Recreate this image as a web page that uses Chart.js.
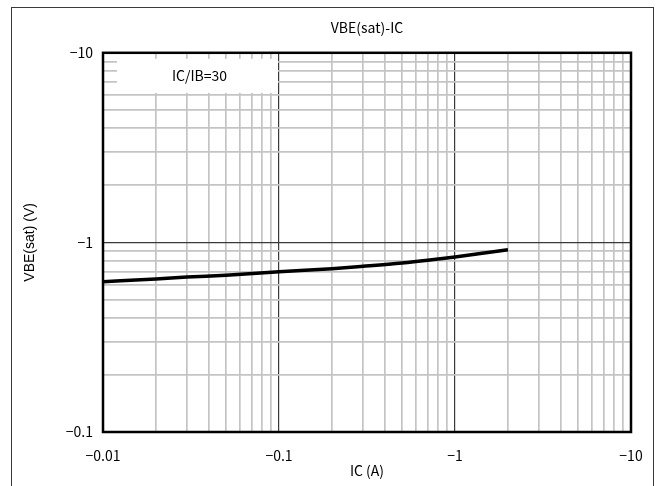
<!DOCTYPE html>
<html>
<head>
<meta charset="utf-8">
<title>VBE(sat)-IC</title>
<script src="https://cdn.jsdelivr.net/npm/chart.js@4.4.1/dist/chart.umd.min.js"></script>
<style>
  html, body { margin: 0; padding: 0; background: #fff; }
  #wrap { position: relative; width: 656px; height: 486px; }
</style>
</head>
<body>
<div id="wrap"><canvas id="chart" width="656" height="486"></canvas></div>
<script>
// IC/IB=30 での VBE(sat) 特性 (A, V)
const icValues  = [-0.01, -0.02, -0.03, -0.05, -0.1, -0.2, -0.3, -0.5, -0.7, -1, -1.5, -2];
const vbeValues = [-0.62, -0.641, -0.656, -0.672, -0.70, -0.727, -0.748, -0.778, -0.804, -0.837, -0.881, -0.915];

// 目盛り (10 倍ごと)
const xDecades = [0.01, 0.1, 1, 10];
const xTickLabels = ['−0.01', '−0.1', '−1', '−10'];
const yDecades = [0.1, 1, 10];
const yTickLabels = ['−0.1', '−1', '−10'];
const noteText = 'IC/IB=30';

const jpFont = '"Noto Sans CJK JP", "Noto Sans", sans-serif';

// 対数軸は正の値しか扱えないので絶対値でプロットし、ラベルに負号を付ける
const points = icValues.map((ic, i) => ({ x: Math.abs(ic), y: Math.abs(vbeValues[i]) }));

function decadeIndex(v, decades) {
    return decades.findIndex(d => Math.abs(v / d - 1) < 1e-6);
}

// 1,2,...,9 x 10^n の位置にグリッド線を置く
function logGridTicks(scale) {
    const ticks = [];
    const e0 = Math.floor(Math.log10(scale.min));
    const e1 = Math.ceil(Math.log10(scale.max));
    for (let e = e0; e <= e1; e++) {
        for (let m = 1; m <= 9; m++) {
            const v = Number((m * Math.pow(10, e)).toPrecision(6));
            if (v >= scale.min * 0.999999 && v <= scale.max * 1.000001) ticks.push({ value: v });
        }
    }
    scale.ticks = ticks;
}

function gridColor(decades) {
    return ctx => (ctx.tick && decadeIndex(ctx.tick.value, decades) >= 0) ? '#3a3a3a' : '#c4c4c4';
}
function gridWidth(decades) {
    return ctx => (ctx.tick && decadeIndex(ctx.tick.value, decades) >= 0) ? 1.2 : 1.7;
}

const framePlugin = {
    id: 'frame',
    beforeDraw(chart) {
        const ctx = chart.ctx;
        ctx.save();
        ctx.fillStyle = '#fff';
        ctx.fillRect(0, 0, chart.width, chart.height);
        ctx.strokeStyle = '#3a3a3a';
        ctx.lineWidth = 1;
        ctx.strokeRect(11.5, 7.5, 642, 520);
        ctx.restore();
    },
    beforeDatasetsDraw(chart) {
        // 条件表示のボックス
        const { ctx, chartArea: a, scales: { x } } = chart;
        const left = a.left + 14;
        const right = x.getPixelForValue(0.1) - 1;
        const top = a.top + 6;
        const bottom = a.top + 40;
        ctx.save();
        ctx.fillStyle = '#fff';
        ctx.fillRect(left, top, right - left, bottom - top);
        ctx.fillStyle = '#000';
        ctx.font = '14px ' + jpFont;
        ctx.textAlign = 'center';
        ctx.textBaseline = 'middle';
        ctx.fillText(noteText, (left + right) / 2 + 2, (top + bottom) / 2);
        ctx.restore();
    },
    afterDraw(chart) {
        const { ctx, chartArea: a } = chart;
        ctx.save();
        ctx.strokeStyle = '#000';
        ctx.lineWidth = 2.5;
        ctx.strokeRect(a.left, a.top, a.right - a.left, a.bottom - a.top);
        ctx.restore();
    }
};

new Chart(document.getElementById('chart'), {
    type: 'line',
    data: {
        datasets: [{
            data: points,
            borderColor: '#000',
            borderWidth: 3.5,
            pointRadius: 0,
            cubicInterpolationMode: 'monotone',
            fill: false
        }]
    },
    options: {
        responsive: false,
        animation: false,
        layout: { padding: { left: 0, right: 25, top: 0, bottom: 0 } },
        plugins: {
            legend: { display: false },
            tooltip: { enabled: false },
            title: {
                display: true,
                text: 'VBE(sat)-IC',
                fullSize: false,
                color: '#000',
                font: { family: jpFont, size: 14, weight: 'normal', lineHeight: 1.2 },
                padding: { top: 19, bottom: 17 }
            }
        },
        scales: {
            x: {
                type: 'logarithmic',
                min: 0.01,
                max: 10,
                afterBuildTicks: logGridTicks,
                afterFit(scale) {
                    scale.height = 54;
                    scale.paddingLeft = 0;
                    scale.paddingRight = 0;
                },
                grid: { color: gridColor(xDecades), lineWidth: gridWidth(xDecades), drawTicks: false },
                border: { display: false },
                ticks: {
                    autoSkip: false,
                    maxRotation: 0,
                    padding: 15,
                    color: '#000',
                    font: { family: jpFont, size: 14 },
                    callback(value) {
                        const i = decadeIndex(value, xDecades);
                        return i >= 0 ? xTickLabels[i] : '';
                    }
                },
                title: {
                    display: true,
                    text: 'IC (A)',
                    color: '#000',
                    font: { family: jpFont, size: 14 },
                    padding: { top: 0, bottom: 7 }
                }
            },
            y: {
                type: 'logarithmic',
                min: 0.1,
                max: 10,
                afterBuildTicks: logGridTicks,
                afterFit(scale) {
                    scale.width = 103;
                    scale.paddingTop = 0;
                    scale.paddingBottom = 0;
                },
                grid: { color: gridColor(yDecades), lineWidth: gridWidth(yDecades), drawTicks: false },
                border: { display: false },
                ticks: {
                    autoSkip: false,
                    padding: 10,
                    color: '#000',
                    font: { family: jpFont, size: 14 },
                    callback(value) {
                        const i = decadeIndex(value, yDecades);
                        return i >= 0 ? yTickLabels[i] : '';
                    }
                },
                title: {
                    display: true,
                    text: 'VBE(sat) (V)',
                    color: '#000',
                    font: { family: '"Liberation Sans", Arial, sans-serif', size: 14 },
                    padding: { top: 22, bottom: 0 }
                }
            }
        }
    },
    plugins: [framePlugin]
});
</script>
</body>
</html>
